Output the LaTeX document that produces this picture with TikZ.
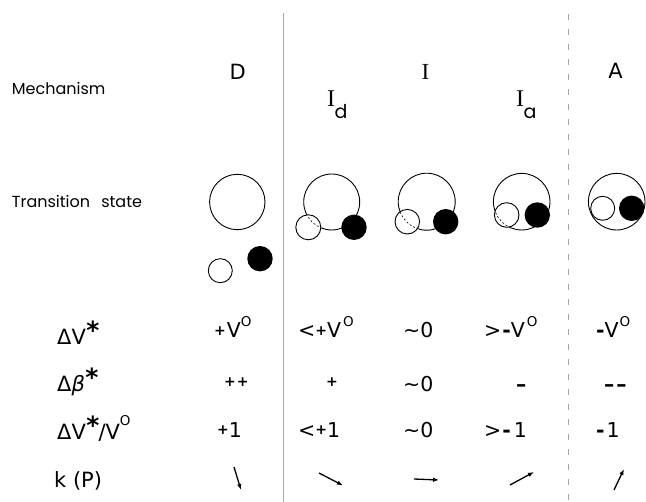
\documentclass[tikz,border=0pt]{standalone}
\usepackage{fontspec}
\setmainfont{DejaVu Sans}
\newfontfamily\serifI{Liberation Serif}
\newfontfamily\pop{Poppins}
\usetikzlibrary{arrows.meta}
\newcommand\supO[1]{\raisebox{#1}{\fontsize{13.5}{13.5}\selectfont O}}
\newcommand\supst{\kern0.5pt\raisebox{5pt}{\fontsize{25}{25}\selectfont\bfseries *}}
\newcommand\smplus[1]{\raisebox{#1}{\fontsize{14}{14}\selectfont\bfseries +}}
\newcommand\thkminus{{\bfseries -}}
\begin{document}
\begin{tikzpicture}[x=1pt,y=-1pt,
  lbl/.style={inner sep=0pt,anchor=base west,font=\pop\fontsize{16}{16}\selectfont},
  mech/.style={inner sep=0pt,anchor=base,font=\fontsize{21}{21}\selectfont},
  sub/.style={inner sep=0pt,anchor=base west,font=\pop\fontsize{19}{19}\selectfont},
  val/.style={inner sep=0pt,anchor=base west,font=\fontsize{20.5}{20.5}\selectfont},
  rowlbl/.style={inner sep=0pt,anchor=base west,font=\fontsize{21}{21}\selectfont},
  ring/.style={line width=0.9pt},
  solid ball/.style={fill=black},
  open ball/.style={line width=0.9pt,fill=white},
  hidden/.style={line width=0.6pt,dash pattern=on 2pt off 2pt},
  karrow/.style={line width=1.3pt,-{Latex[length=6pt,width=4.5pt]}},
  sep1/.style={line width=0.5pt,gray!70},
  sep2/.style={line width=0.5pt,gray!70,dash pattern=on 6pt off 9pt}]
\useasboundingbox (0,0) rectangle (646,502);

% separators
\coordinate (s1t) at (283.5,13); \coordinate (s1b) at (283.5,502);
\coordinate (s2t) at (568,14); \coordinate (s2b) at (568,502);
\draw[sep1] (s1t) -- (s1b);
\draw[sep2] (s2t) -- (s2b);

% row labels
\node[lbl] (mechL) at (11.7,95) {Mechanism};
\node[lbl] (tsL) at (11.7,208) {Transition\hspace{0.7em}state};

% mechanisms
\node[mech] (mD) at (237.7,80) {D};
\node[mech] (mI) at (425.5,80) {\serifI\fontsize{23}{23}\selectfont I};
\node[mech] (mA) at (615.5,79) {A};
\node[inner sep=0pt,anchor=base west,font=\serifI\fontsize{24}{24}\selectfont] (mIdI) at (327,106.7) {I};
\node[sub] (mIdd) at (334.5,119) {d};
\node[inner sep=0pt,anchor=base west,font=\serifI\fontsize{24}{24}\selectfont] (mIaI) at (516,106.7) {I};
\node[sub] (mIaa) at (523.5,119) {a};

% D transition state
\draw[ring] (237.3,202) circle[radius=27.7pt];
\draw[open ball] (220.3,270.7) circle[radius=12pt];
\fill[solid ball] (260,258.7) circle[radius=12.7pt];

% Id
\draw[ring] (331.7,202) circle[radius=28pt];
\fill[solid ball] (354,227.3) circle[radius=12.7pt];
\draw[open ball] (308.3,227.3) circle[radius=12.5pt];
\begin{scope}
  \clip (308.3,227.3) circle[radius=12pt];
  \draw[hidden] (331.7,202) circle[radius=28pt];
\end{scope}

% I
\draw[ring] (426.7,201.7) circle[radius=28.5pt];
\fill[solid ball] (445.7,221.7) circle[radius=12.7pt];
\draw[open ball] (407.3,221.7) circle[radius=12.3pt];
\begin{scope}
  \clip (407.3,221.7) circle[radius=11.8pt];
  \draw[hidden] (426.7,201.7) circle[radius=28.5pt];
\end{scope}

% Ia
\draw[ring] (521.7,201.7) circle[radius=28.3pt];
\fill[solid ball] (537.3,215) circle[radius=12.7pt];
\draw[open ball] (506.7,215) circle[radius=12.3pt];
\begin{scope}
  \clip (506.7,215) circle[radius=11.8pt];
  \draw[hidden] (521.7,201.7) circle[radius=28.3pt];
\end{scope}

% A
\draw[ring] (616.7,201.7) circle[radius=28.3pt];
\draw[open ball] (602.7,208.3) circle[radius=12pt];
\fill[solid ball] (631.7,208.3) circle[radius=12.7pt];

% table row labels
\node[rowlbl] (r1) at (57,345) {ΔV\supst};
\node[rowlbl] (r2) at (57,391.7) {Δ\textit{β}\supst};
\node[rowlbl] (r3) at (57,440) {ΔV\supst\kern-1pt/V\supO{14pt}};
\node[rowlbl] (r4) at (54,488) {k (P)};

% values
\node[val] (v11) at (214,338) {\smplus{2pt}\kern1pt V\supO{11pt}};
\node[val] (v12) at (298,338) {<\smplus{2pt}V\kern2pt\supO{11pt}};
\node[val] (v13) at (403,338) {\textasciitilde 0};
\node[val] (v14) at (484,338) {>\kern1pt\thkminus V\kern2pt\supO{11pt}};
\node[val] (v15) at (596,338) {\thkminus V\kern1pt\supO{11pt}};

\node[val] (v21) at (224,392) {\smplus{5pt}\kern1pt\smplus{5pt}};
\node[val] (v22) at (326,392) {\smplus{5pt}};
\node[val] (v23) at (403,392) {\textasciitilde 0};
\node[val] (v24) at (516,392) {\bfseries –};
\node[val] (v25) at (604,392) {\bfseries –\kern2pt–};

\node[val] (v31) at (217,438) {\smplus{3pt}1};
\node[val] (v32) at (298,438) {<\smplus{3pt}1};
\node[val] (v33) at (403,438) {\textasciitilde 0};
\node[val] (v34) at (484,438) {>\kern1pt\thkminus\kern3pt1};
\node[val] (v35) at (596,438) {\thkminus\kern2pt1};

% k(P) arrows
\coordinate (k1s) at (234,467); \coordinate (k1e) at (241,490);
\coordinate (k2s) at (319,473); \coordinate (k2e) at (343,485.5);
\coordinate (k3s) at (414,479); \coordinate (k3e) at (439,480);
\coordinate (k4s) at (510,485); \coordinate (k4e) at (534,472);
\coordinate (k5s) at (614,490); \coordinate (k5e) at (624,469);
\draw[karrow] (k1s) -- (k1e);
\draw[karrow] (k2s) -- (k2e);
\draw[karrow] (k3s) -- (k3e);
\draw[karrow] (k4s) -- (k4e);
\draw[karrow] (k5s) -- (k5e);
\end{tikzpicture}
\end{document}
